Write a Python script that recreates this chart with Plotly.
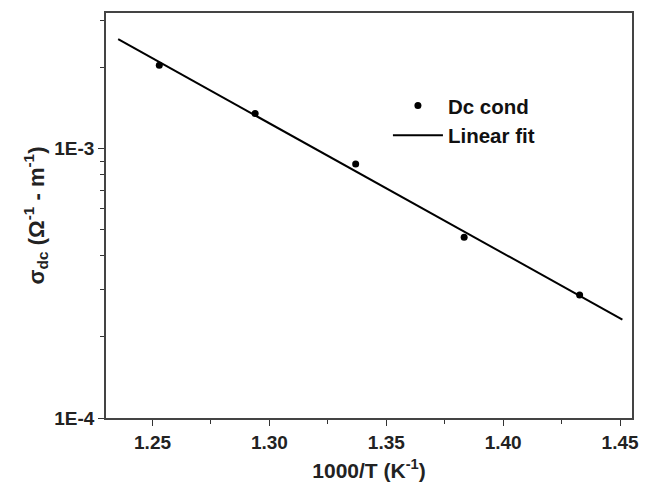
import plotly.graph_objects as go

# Data
x_data = [1.2529, 1.2939, 1.3369, 1.3833, 1.4327]
y_data = [2.04e-3, 1.35e-3, 8.78e-4, 4.69e-4, 2.86e-4]

x_fit = [1.2353, 1.4510]
y_fit = [2.55e-3, 2.32e-4]

x_ticks = [1.25, 1.30, 1.35, 1.40, 1.45]
x_ticktext = ["1.25", "1.30", "1.35", "1.40", "1.45"]
x_minor = [1.275, 1.325, 1.375, 1.425]
y_ticks = [1e-4, 1e-3]
y_ticktext = ["1E-4", "1E-3"]
y_minor = [2e-4, 3e-4, 4e-4, 5e-4, 6e-4, 7e-4, 8e-4, 9e-4, 2e-3, 3e-3]

FONT = "Arial, Liberation Sans, sans-serif"

fig = go.Figure()
fig.add_trace(go.Scatter(
    x=x_data, y=y_data, mode="markers", name="Dc cond",
    marker=dict(color="black", size=7, symbol="circle"),
))
fig.add_trace(go.Scatter(
    x=x_fit, y=y_fit, mode="lines", name="Linear fit",
    line=dict(color="black", width=2),
))

fig.update_layout(
    width=648, height=488,
    margin=dict(l=106, r=9, t=13, b=69),
    paper_bgcolor="white", plot_bgcolor="white",
    font=dict(family=FONT, color="black"),
    showlegend=True,
    legend=dict(
        x=0.536, y=0.734, xanchor="left", yanchor="middle",
        bgcolor="rgba(0,0,0,0)",
        font=dict(family=FONT, size=20.5, color="#111", weight="bold"),
        itemwidth=50,
    ),
)

fig.update_xaxes(
    range=[1.2301, 1.4551],
    tickmode="array", tickvals=x_ticks, ticktext=x_ticktext,
    ticks="outside", ticklen=6, tickwidth=1.2, tickcolor="#333",
    minor=dict(tickmode="array", tickvals=x_minor, ticks="outside", ticklen=4, tickcolor="#333"),
    showline=True, linecolor="#444", linewidth=1.5, mirror=True,
    showgrid=False, zeroline=False,
    tickfont=dict(family=FONT, size=19, color="#222", weight="bold"),
    title=dict(text="1000/T (K<sup>-1</sup>)", standoff=12,
               font=dict(family=FONT, size=21, color="#222", weight="bold")),
)
fig.update_yaxes(
    type="log", range=[-4, -2.496],
    tickmode="array", tickvals=y_ticks, ticktext=y_ticktext,
    ticks="outside", ticklen=6, tickwidth=1.2, tickcolor="#333",
    minor=dict(tickmode="array", tickvals=y_minor, ticks="outside", ticklen=4, tickcolor="#333"),
    showline=True, linecolor="#444", linewidth=1.5, mirror=True,
    showgrid=False, zeroline=False,
    tickfont=dict(family=FONT, size=19, color="#222", weight="bold"),
    title=dict(text="σ<sub>dc</sub> (Ω<sup>-1</sup> - m<sup>-1</sup>)", standoff=4,
               font=dict(family=FONT, size=22, color="#222", weight="bold")),
)

fig.write_html("out.html")
